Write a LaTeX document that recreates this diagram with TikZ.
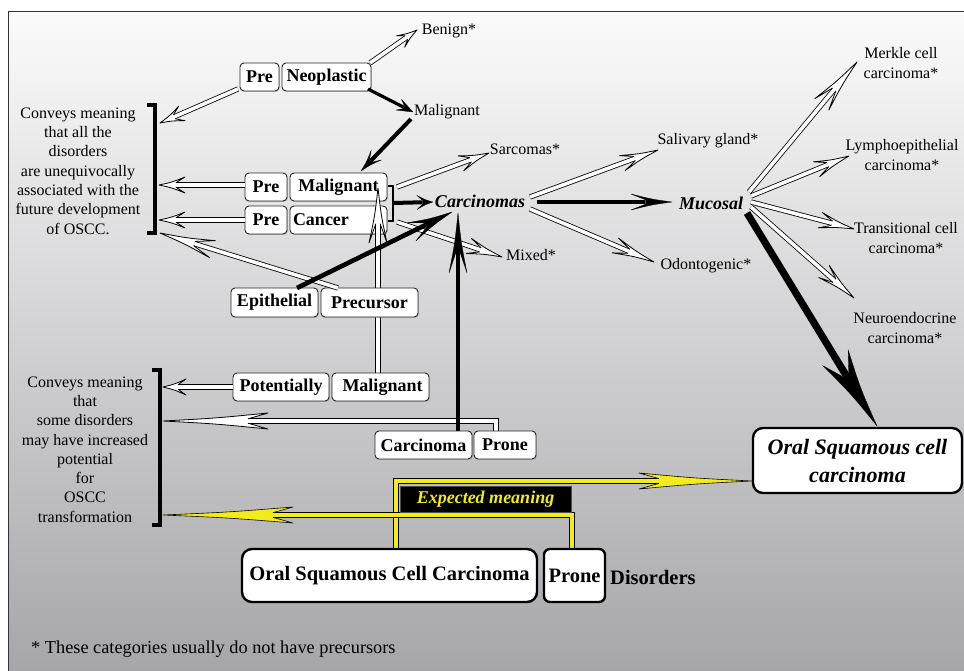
\documentclass[tikz,border=0pt]{standalone}
\usepackage{fontspec}
\setmainfont{Liberation Serif}
\usetikzlibrary{calc,shadows}
\definecolor{bgtop}{HTML}{FCFBFB}
\definecolor{bgmid}{HTML}{D6D6D7}
\definecolor{bgbot}{HTML}{A6A6AA}
\definecolor{oyel}{HTML}{F4EC1A}

% #1 kind (H hollow, B black, Y yellow), #2 pre-path, #3 from, #4 to, #5 shaft half width, #6 head length, #7 barb half width
\newcommand\oarrow[7]{%
  \path let \p1=(#3),\p2=(#4),\n1={atan2(\y2-\y1,\x2-\x1)},\n2={veclen(\x2-\x1,\y2-\y1)} in
    \pgfextra{\xdef\arrAraw{\n1}\xdef\arrLraw{\n2}\xdef\arrX{\x1}\xdef\arrY{\y1}};
  \pgfmathsetmacro\arrA{\arrAraw}%
  \pgfmathsetmacro\arrL{\arrLraw}%
  \pgfmathsetmacro\arrB{\arrL-#6}%
  \pgfmathsetmacro\arrN{\arrL-#6+min(0.35*#6,20)}%
  \pgfmathsetmacro\arrCa{\arrL-0.5*#6}%
  \pgfmathsetmacro\arrCb{0.35*#7}%
  \pgfmathsetmacro\arrDH{2*#5-0.8}%
  \pgfmathsetmacro\arrDY{2*#5-0.6}%
  \pgfmathsetmacro\arrWB{2*#5}%
  \begin{scope}[shift={(\arrX,\arrY)},rotate=\arrA]
    \draw[shaft#1] #2 (0pt,0pt) -- (\arrN pt,0pt);
    \fill[headfill#1] (\arrN pt,-#5pt) -- (\arrB pt,-#7pt) .. controls (\arrCa pt,-\arrCb pt) .. (\arrL pt,0pt) .. controls (\arrCa pt,\arrCb pt) .. (\arrB pt,#7pt) -- (\arrN pt,#5pt) -- cycle;
    \draw[headline#1] (\arrN pt,-#5pt) -- (\arrB pt,-#7pt) .. controls (\arrCa pt,-\arrCb pt) .. (\arrL pt,0pt) .. controls (\arrCa pt,\arrCb pt) .. (\arrB pt,#7pt) -- (\arrN pt,#5pt);
  \end{scope}}

\tikzset{
  shaftH/.style={draw=black,line width=0.8pt,double=white,double distance=\arrDH pt,line join=miter},
  headfillH/.style={fill=white},
  headlineH/.style={draw=black,line width=0.8pt,line join=round},
  shaftB/.style={draw=black,line width=\arrWB pt},
  headfillB/.style={fill=black},
  headlineB/.style={draw=black,line width=0.3pt,line join=round},
  shaftY/.style={draw=black,line width=0.6pt,double=oyel,double distance=\arrDY pt,line join=miter},
  headfillY/.style={fill=oyel},
  headlineY/.style={draw=black,line width=0.6pt,line join=round},
  lbl/.style={font=\fontsize{16}{19.3}\selectfont,align=center,inner sep=0pt},
  bx/.style={draw=black!85,line width=0.9pt,fill=white,rounded corners=4pt,inner sep=0pt,
     minimum height=28pt,font=\fontsize{18}{20}\selectfont\bfseries,
     drop shadow={shadow xshift=0.9pt,shadow yshift=-0.9pt,opacity=0.35}},
  bigbx/.style={draw=black,line width=2.4pt,fill=white,rounded corners=10pt,inner sep=0pt,
     font=\fontsize{20.5}{24}\selectfont\bfseries},
  brk/.style={draw=black,line width=4pt,line join=miter},
}

\begin{document}
\begin{tikzpicture}[x=1pt,y=-1pt]
\useasboundingbox (0,0) rectangle (964,671);
\fill[white] (0,0) rectangle (964,671);
\shade[top color=bgtop,middle color=bgmid,bottom color=bgbot] (8,12) rectangle (966,673);
\draw[black!80,line width=1pt] (8,673) -- (8,12) -- (966,12);

% ---------- plain texts ----------
\node[lbl] (left1) at (78,171) {Conveys meaning\\that all the\\disorders\\are unequivocally\\associated with the\\future development\\of OSCC.};
\node[lbl] (left2) at (85,449.5) {Conveys meaning\\that\\some disorders\\may have increased\\potential\\for\\OSCC\\transformation};
\node[lbl] (benign) at (449,31) {Benign*};
\node[lbl] (maligt) at (447,112) {Malignant};
\node[lbl] (sarc) at (525,149) {Sarcomas*};
\node[lbl] (mixed) at (531,255) {Mixed*};
\node[lbl] (saliv) at (708,141) {Salivary gland*};
\node[lbl] (odont) at (706,266) {Odontogenic*};
\node[lbl] (merkle) at (901,63) {Merkle cell\\carcinoma*};
\node[lbl] (lympho) at (902,155) {Lymphoepithelial\\carcinoma*};
\node[lbl] (trans) at (906,238) {Transitional cell\\carcinoma*};
\node[lbl] (neuro) at (905,328) {Neuroendocrine\\carcinoma*};
\node[lbl,anchor=west,font=\fontsize{18.3}{22}\selectfont] (foot) at (31,649) {* These categories usually do not have precursors};
\node[font=\fontsize{18}{20}\selectfont\bfseries\itshape,inner sep=0pt] (carcs) at (480,201) {Carcinomas};
\node[font=\fontsize{18}{20}\selectfont\bfseries\itshape,inner sep=0pt] (mucosal) at (711,203) {Mucosal};

% ---------- brackets ----------
\draw[brk] (147,105) -- (155,105) -- (155,233) -- (147,233);
\draw[brk] (152,370) -- (160,370) -- (160,525) -- (152,525);
\draw[draw=black,line width=2.5pt,line join=miter] (388,186) -- (393,186) -- (393,221) -- (388,221);

% ---------- upper boxes ----------
\node[bx,minimum width=39pt] (preneo) at (259.5,77) {Pre};
\node[bx,minimum width=89pt] (neo) at (326.5,77) {Neoplastic};
\node[bx,minimum width=42pt] (premal) at (266,187) {Pre};
\node[bx,minimum width=97pt] (mal) at (338.5,187) {Malignant};
\node[bx,minimum width=42pt] (precan) at (266,220) {Pre};
\node[bx,minimum width=97pt,text width=91pt,align=left,inner xsep=3pt] (can) at (338.5,220) {Cancer};

% ---------- connector end points ----------
\coordinate (h1s) at (370,63);  \coordinate (h1t) at (417,30);
\coordinate (h2s) at (238,89);  \coordinate (h2t) at (160,123);
\coordinate (h3s) at (245,185); \coordinate (h3t) at (159,185);
\coordinate (h4s) at (245,220); \coordinate (h4t) at (159,220);
\coordinate (h5s) at (338,288); \coordinate (h5t) at (160,233);
\coordinate (h6s) at (397,187); \coordinate (h6t) at (489,153);
\coordinate (h7s) at (397,222); \coordinate (h7t) at (502,257);
\coordinate (h8s) at (530,197); \coordinate (h8t) at (658,150);
\coordinate (h9s) at (530,209); \coordinate (h9t) at (654,262);
\coordinate (h10s) at (749,192); \coordinate (h10t) at (857,62);
\coordinate (h11s) at (751,196); \coordinate (h11t) at (849,156);
\coordinate (h12s) at (751,202); \coordinate (h12t) at (854,229);
\coordinate (h13s) at (751,207); \coordinate (h13t) at (854,298);
\coordinate (h14s) at (233,387); \coordinate (h14t) at (163,387);
\coordinate (h15s) at (496,431); \coordinate (h15c) at (496,421); \coordinate (h15t) at (163,421);
\coordinate (h16s) at (378,373); \coordinate (h16t) at (378,188);
\coordinate (b1s) at (368,89);  \coordinate (b1t) at (413,112);
\coordinate (b2s) at (411,119); \coordinate (b2t) at (361,171);
\coordinate (b3s) at (393,203); \coordinate (b3t) at (433,202);
\coordinate (b4s) at (297,288); \coordinate (b4t) at (452,212);
\coordinate (b5s) at (458,431); \coordinate (b5t) at (458,213);
\coordinate (b6s) at (537,202); \coordinate (b6t) at (672,202);
\coordinate (b7s) at (747,213); \coordinate (b7t) at (877,426);
\coordinate (y1s) at (396,549); \coordinate (y1c) at (396,481); \coordinate (y1t) at (752,481);
\coordinate (y2s) at (572,549); \coordinate (y2c) at (572,515); \coordinate (y2t) at (163,515);

% ---------- hollow arrows ----------
\oarrow{H}{}{h1s}{h1t}{2.2}{20}{7}
\oarrow{H}{}{h2s}{h2t}{2.2}{24}{8}
\oarrow{H}{}{h3s}{h3t}{2.2}{26}{8}
\oarrow{H}{}{h4s}{h4t}{2.2}{26}{8}
\oarrow{H}{}{h6s}{h6t}{2.2}{30}{8}
\oarrow{H}{}{h7s}{h7t}{2.2}{35}{8}
\oarrow{H}{}{h16s}{h16t}{2.2}{55}{9}

% ---------- middle boxes ----------
\node[bx,minimum width=87pt,minimum height=29pt] (epi) at (274.5,302.5) {Epithelial};
\node[bx,minimum width=97pt,minimum height=29pt] (prec) at (369.5,302.5) {Precursor};
\node[bx,minimum width=96pt] (pot) at (281,387) {Potentially};
\node[bx,minimum width=97pt] (mal2) at (380.5,387) {\hspace*{4pt}Malignant};

\oarrow{H}{}{h5s}{h5t}{2.2}{55}{9}
\oarrow{H}{}{h14s}{h14t}{2.2}{23}{8}
\oarrow{H}{(h15s) --}{h15c}{h15t}{2.2}{105}{8}
\oarrow{H}{}{h8s}{h8t}{2.2}{38}{8}
\oarrow{H}{}{h9s}{h9t}{2.2}{42}{8}
\oarrow{H}{}{h10s}{h10t}{2.2}{55}{9}
\oarrow{H}{}{h11s}{h11t}{2.2}{35}{8}
\oarrow{H}{}{h12s}{h12t}{2.2}{35}{8}
\oarrow{H}{}{h13s}{h13t}{2.2}{40}{8}

% ---------- black arrows ----------
\oarrow{B}{}{b1s}{b1t}{1.6}{16}{6}
\oarrow{B}{}{b2s}{b2t}{2}{22}{7}
\oarrow{B}{}{b3s}{b3t}{2}{16}{7}
\oarrow{B}{}{b4s}{b4t}{2.3}{45}{10}
\oarrow{B}{}{b5s}{b5t}{2.3}{60}{9}
\oarrow{B}{}{b6s}{b6t}{2.3}{41}{8}
\oarrow{B}{}{b7s}{b7t}{3.6}{80}{15}

% ---------- lower boxes ----------
\node[bx,minimum width=97pt] (carc) at (423.5,445) {Carcinoma};
\node[bx,minimum width=62pt] (prone) at (505,445) {Prone};

% ---------- yellow arrows ----------
\oarrow{Y}{(y1s) --}{y1c}{y1t}{2.4}{113}{8}
\oarrow{Y}{(y2s) --}{y2c}{y2t}{2.4}{130}{8}
\node[fill=black,draw=black!70,line width=0.5pt,minimum width=171pt,minimum height=26pt,inner sep=0pt,
  text=oyel,font=\fontsize{18}{20}\selectfont\bfseries\itshape] (expected) at (485.5,499) {Expected meaning};

\node[bigbx,minimum width=295pt,minimum height=53pt] (oscc) at (389.5,575.5) {Oral Squamous Cell Carcinoma};
\node[bigbx,minimum width=61pt,minimum height=53pt,rounded corners=6pt] (bigprone) at (574.5,575.5) {Prone};
\node[font=\fontsize{20.5}{24}\selectfont\bfseries,inner sep=0pt,anchor=west] (disorders) at (610,577) {Disorders};
\node[bigbx,minimum width=209pt,minimum height=65pt,align=center,
  font=\fontsize{22}{28}\selectfont\bfseries\itshape] (osccbox) at (857.5,460.5) {Oral Squamous cell\\carcinoma};
\end{tikzpicture}
\end{document}
